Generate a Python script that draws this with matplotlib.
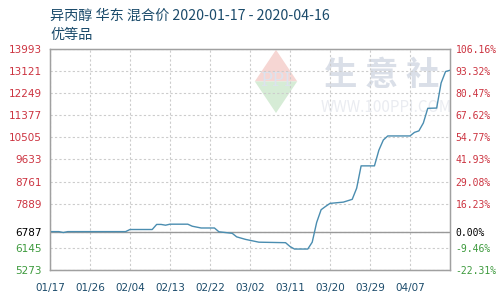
import numpy as np
import matplotlib
matplotlib.use('Agg')
import matplotlib.pyplot as plt
import matplotlib.dates as mdates
from matplotlib.patches import Polygon
import datetime as dt

plt.rcParams['font.family'] = ['Noto Sans CJK SC', 'DejaVu Sans']

# 数据：距 2020-01-17 的天数 与 价格
day_offsets = [0, 2, 3, 4, 17, 18, 23, 24, 25, 26, 27, 31, 32, 34, 37, 38, 41, 42,
               44, 47, 53, 54, 55, 58, 59, 60, 61, 62, 63, 66, 68, 69, 70, 73, 74,
               75, 76, 81, 82, 83, 84, 85, 87, 88, 89, 90]
prices = [6787, 6787, 6750, 6787, 6787, 6870, 6870, 7070, 7070, 7040, 7080, 7080,
          7000, 6930, 6930, 6780, 6720, 6580, 6480, 6370, 6350, 6200, 6100, 6100,
          6370, 7150, 7650, 7780, 7900, 7950, 8060, 8500, 9380, 9380, 10000, 10400,
          10560, 10560, 10700, 10760, 11070, 11650, 11660, 12650, 13100, 13150]

base_price = 6787
left_ticks = [5273, 6145, 6787, 7889, 8761, 9633, 10505, 11377, 12249, 13121, 13993]
right_labels = ['-22.31%', '-9.46%', '0.00%', '16.23%', '29.08%', '41.93%',
                '54.77%', '67.62%', '80.47%', '93.32%', '106.16%']
x_tick_labels = ['01/17', '01/26', '02/04', '02/13', '02/22', '03/02',
                 '03/11', '03/20', '03/29', '04/07']
title_line1 = '异丙醇 华东 混合价 2020-01-17 - 2020-04-16'
title_line2 = '优等品'

start = dt.date(2020, 1, 17)
dates = [start + dt.timedelta(days=d) for d in day_offsets]
tick_dates = [start + dt.timedelta(days=9 * i) for i in range(len(x_tick_labels))]

RED = '#cc3340'
GREEN = '#3d9a3d'
BLUE_TXT = '#1b4b6b'
GRAY = '#a0a0a0'


def tick_color(v):
    if v > base_price:
        return RED
    if v < base_price:
        return GREEN
    return 'black'


fig = plt.figure(figsize=(5, 3), dpi=100)
ax = fig.add_axes([0.1, 0.1, 0.8, 0.737])

# 水印
ax.text(0.83, 0.88, '生 意 社', transform=ax.transAxes, ha='center', va='center',
        fontsize=24, color='#dadfe8', fontweight='bold', zorder=0)
ax.text(0.84, 0.735, 'WWW.100PPI.COM', transform=ax.transAxes, ha='center',
        va='center', fontsize=11, color='#eaecf1', zorder=0)
cx, cy, hw, hh = 0.565, 0.853, 0.053, 0.143
ax.add_patch(Polygon([[cx - hw, cy], [cx, cy + hh], [cx + hw, cy]], closed=True,
                     transform=ax.transAxes, color='#f6d6d3', lw=0, zorder=0))
ax.add_patch(Polygon([[cx - hw, cy], [cx, cy - hh], [cx + hw, cy]], closed=True,
                     transform=ax.transAxes, color='#d6ecd6', lw=0, zorder=0))
ax.text(cx, cy, 'PPI', transform=ax.transAxes, ha='center', va='center',
        fontsize=13, color='#dde3ee', family='DejaVu Serif', zorder=0)

ax.plot(dates, prices, color='#4a8db0', lw=1.0, zorder=3)
ax.axhline(base_price, color='#999999', lw=1.0, zorder=2)

ax.set_xlim(start, start + dt.timedelta(days=90))
ax.set_ylim(left_ticks[0], left_ticks[-1])

ax.set_yticks(left_ticks)
ax.set_yticklabels([str(v) for v in left_ticks], fontsize=7.5, family='DejaVu Sans')
for lab, v in zip(ax.get_yticklabels(), left_ticks):
    lab.set_color(tick_color(v))

ax.set_xticks(tick_dates)
ax.set_xticklabels(x_tick_labels, fontsize=7.5, color=BLUE_TXT, family='DejaVu Sans')
ax.tick_params(axis='both', length=0, pad=6)
ax.tick_params(axis='x', pad=9)

ax.grid(True, color='#cccccc', lw=0.8, ls=(0, (2, 2)))
for s in ax.spines.values():
    s.set_color(GRAY)
    s.set_linewidth(1.0)

ax2 = ax.twinx()
ax2.set_ylim(ax.get_ylim())
ax2.set_yticks(left_ticks)
ax2.set_yticklabels(right_labels, fontsize=7, family='DejaVu Sans Mono')
for lab, v in zip(ax2.get_yticklabels(), left_ticks):
    lab.set_color(tick_color(v))
ax2.tick_params(axis='y', length=0, pad=4)
for s in ax2.spines.values():
    s.set_color(GRAY)

fig.text(0.1, 0.948, title_line1, fontsize=10.2, color=BLUE_TXT, va='center')
fig.text(0.1, 0.882, title_line2, fontsize=10.2, color=BLUE_TXT, va='center')

fig.savefig('out.png', dpi=100)
